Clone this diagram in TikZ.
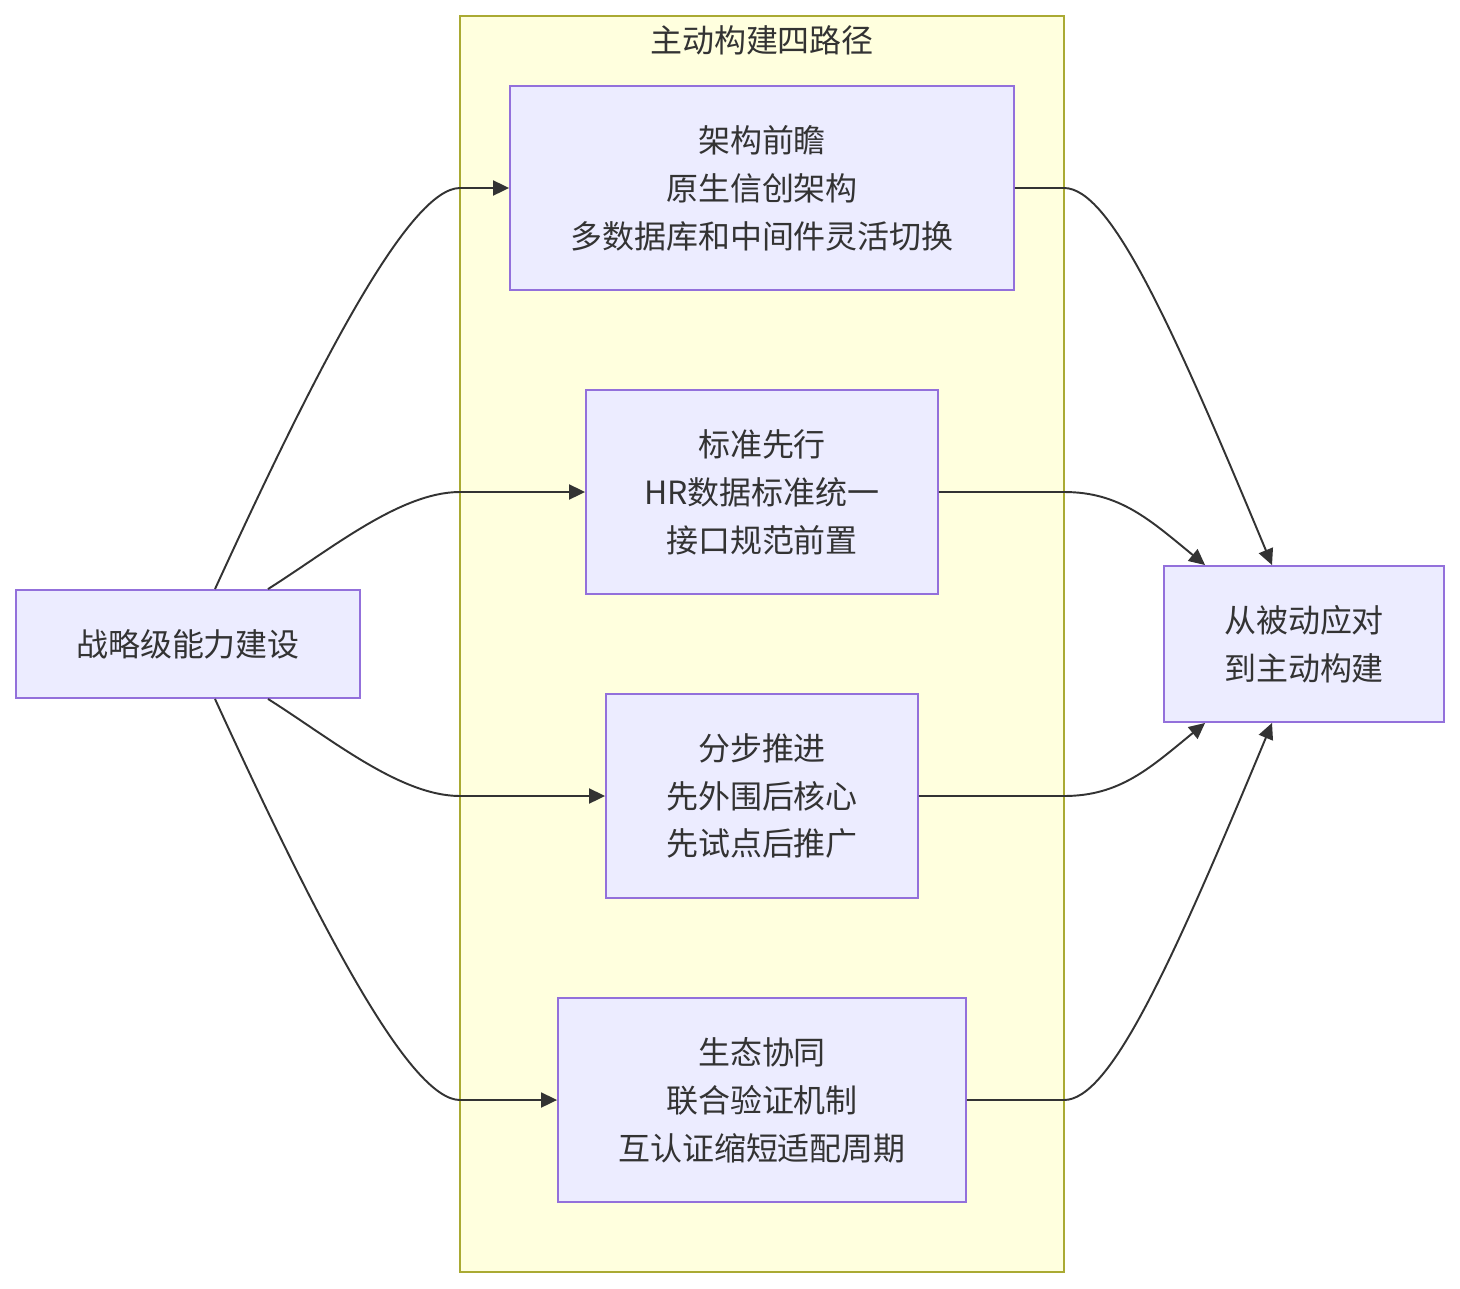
\documentclass[tikz,border=0pt]{standalone}
\usepackage{fontspec}
\setmainfont{Noto Sans CJK SC}
\usetikzlibrary{positioning,arrows.meta,calc,backgrounds}
\definecolor{BoxFill}{HTML}{ECECFF}
\definecolor{BoxLine}{HTML}{9370DB}
\definecolor{ZoneFill}{HTML}{FFFFDE}
\definecolor{ZoneLine}{HTML}{AAAA33}
\definecolor{InkGray}{HTML}{333333}

\begin{document}
\begin{tikzpicture}[
  x=0.02cm, y=-0.02cm,
  >={Triangle[length=3.2mm,width=3.0mm]},
  box/.style={
    draw=BoxLine, fill=BoxFill, line width=1.1pt, align=center,
    text=InkGray, font=\fontsize{18.2}{27.3}\selectfont,
    inner sep=0pt, minimum height=4.08cm
  },
  zone/.style={draw=ZoneLine, fill=ZoneFill, line width=1.1pt},
  flow/.style={->, draw=InkGray, line width=1.1pt},
]
\fill[white] (0,0) rectangle (1460,1288);
\useasboundingbox (0,0) rectangle (1460,1288);

% ---------- Cluster ----------
\draw[zone] (460,16) rectangle (1064,1272);
\node[text=InkGray, font=\fontsize{18.2}{27.3}\selectfont] (zonetitle) at (762,40) {主动构建四路径};

% ---------- Four paths ----------
\node[box, minimum width=10.08cm] (p_arch)  at (762,188)  {架构前瞻\\原生信创架构\\多数据库和中间件灵活切换};
\node[box, minimum width=7.04cm]  (p_std)   at (762,492)  {标准先行\\HR数据标准统一\\接口规范前置};
\node[box, minimum width=6.24cm]  (p_step)  at (762,796)  {分步推进\\先外围后核心\\先试点后推广};
\node[box, minimum width=8.16cm]  (p_eco)   at (762,1100) {生态协同\\联合验证机制\\互认证缩短适配周期};

% ---------- Start and goal ----------
\node[box, minimum width=6.88cm, minimum height=2.16cm] (start) at (188,644)  {战略级能力建设};
\node[box, minimum width=5.6cm,  minimum height=3.12cm] (goal)  at (1304,644) {从被动应对\\到主动构建};

% ---------- Edges: start -> paths ----------
\draw[flow] ($(start.north)+(27,0)$) .. controls (320,360) and (410,188) .. (460,188) -- (p_arch.west);
\draw[flow] ($(start.north)+(80,0)$) .. controls (330,550) and (400,492) .. (460,492) -- (p_std.west);
\draw[flow] ($(start.south)+(80,0)$) .. controls (330,738) and (400,796) .. (460,796) -- (p_step.west);
\draw[flow] ($(start.south)+(27,0)$) .. controls (320,928) and (410,1100) .. (460,1100) -- (p_eco.west);

% ---------- Edges: paths -> goal ----------
\draw[flow] (p_arch.east) -- (1064,188) .. controls (1110,188) and (1170,320) .. ($(goal.north)+(-32,0)$);
\draw[flow] (p_std.east)  -- (1064,492) .. controls (1120,492) and (1150,520) .. ($(goal.north west)+(42,0)$);
\draw[flow] (p_step.east) -- (1064,796) .. controls (1120,796) and (1150,768) .. ($(goal.south west)+(42,0)$);
\draw[flow] (p_eco.east)  -- (1064,1100) .. controls (1110,1100) and (1170,968) .. ($(goal.south)+(-32,0)$);

\end{tikzpicture}
\end{document}
